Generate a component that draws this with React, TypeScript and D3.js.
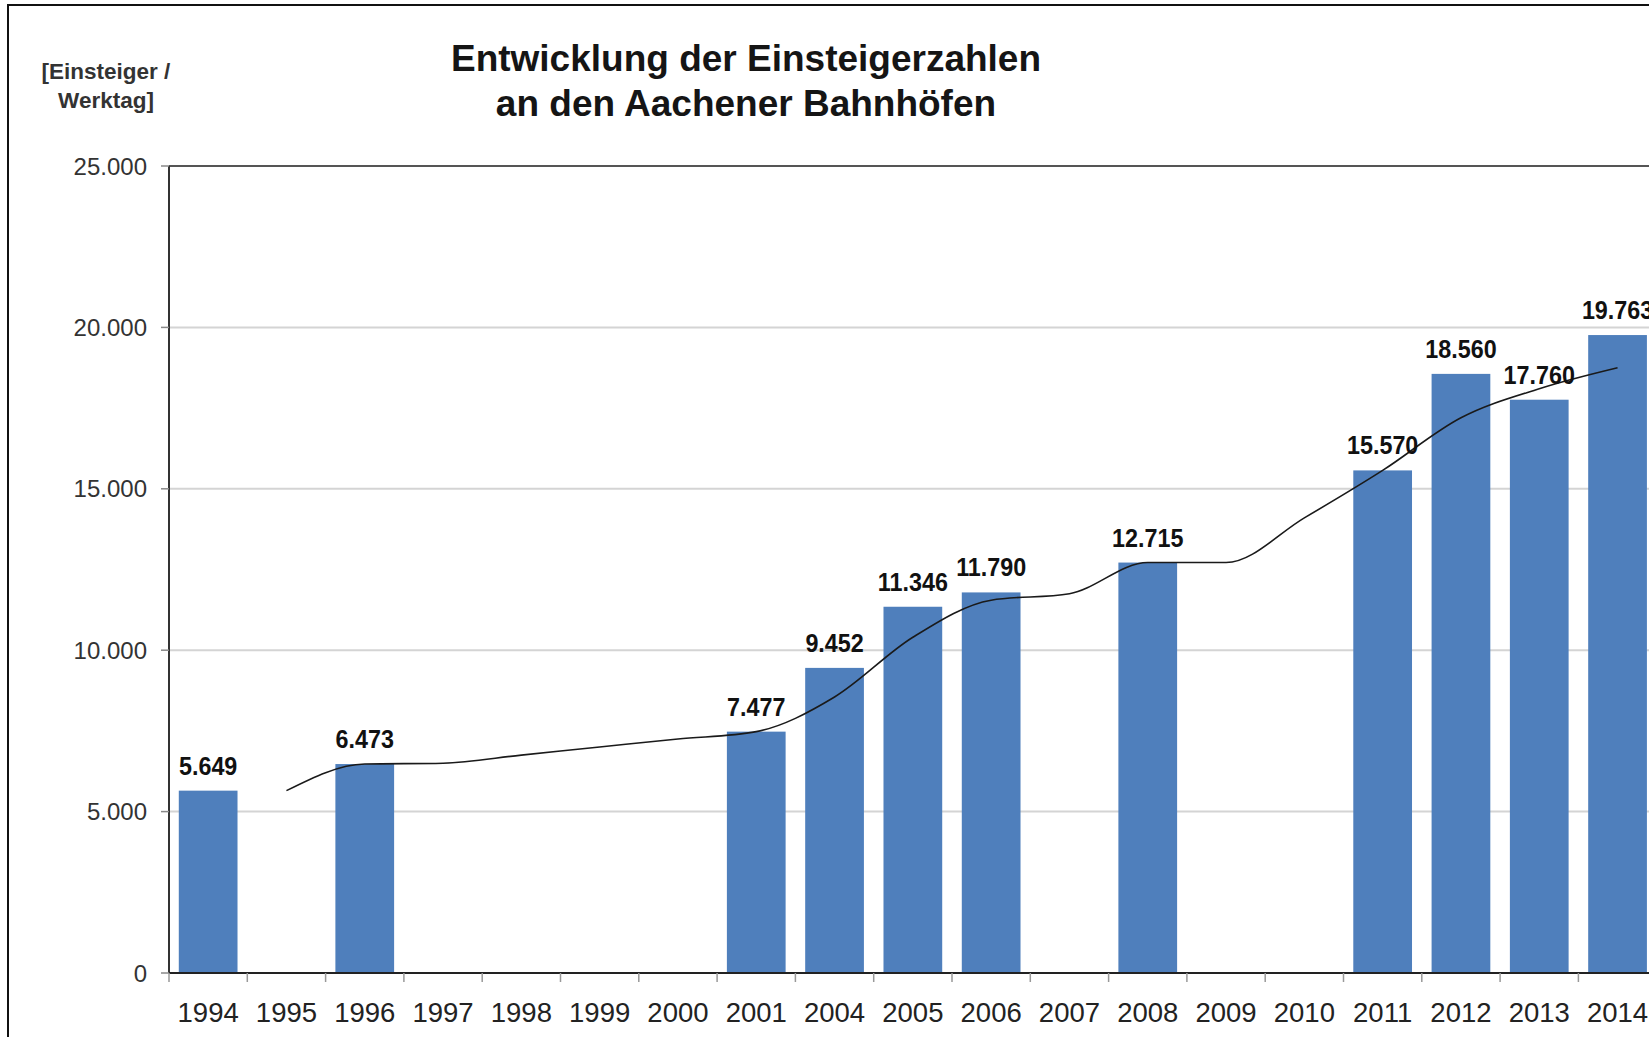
import React from "react";
import * as d3 from "d3";

const years = ["1994","1995","1996","1997","1998","1999","2000","2001","2004","2005","2006","2007","2008","2009","2010","2011","2012","2013","2014"];
const barValues: (number | null)[] = [5649, null, 6473, null, null, null, null, 7477, 9452, 11346, 11790, null, 12715, null, null, 15570, 18560, 17760, 19763];
const trendValues: (number | null)[] = [null, 5649, 6473, 6500, 6750, 7000, 7250, 7477, 8550, 10400, 11550, 11750, 12715, 12715, 14100, 15570, 17200, 18100, 18750];
const yTicks = [0, 5000, 10000, 15000, 20000, 25000];
const titleLines = ["Entwicklung der Einsteigerzahlen", "an den Aachener Bahnhöfen"];
const unitLines = ["[Einsteiger /", "Werktag]"];

const W = 1649;
const H = 1037;
const plotLeft = 169;
const step = 78.3;
const plotRight = plotLeft + years.length * step;
const plotTop = 166;
const plotBottom = 973;

const de = d3.formatLocale({ decimal: ",", thousands: ".", grouping: [3], currency: ["", " €"] });
const fmt = de.format(",");

export default function App() {
  const x = d3.scaleBand<string>().domain(years).range([plotLeft, plotRight]).paddingInner(0.25).paddingOuter(0.125);
  const y = d3.scaleLinear().domain([0, 25000]).range([plotBottom, plotTop]);
  const bw = x.bandwidth();
  const st = x.step();
  const boundaries = d3.range(years.length + 1).map((i) => plotLeft + i * st);

  const trendPts = years
    .map((yr, i) => ({ yr, v: trendValues[i] }))
    .filter((d) => d.v != null) as { yr: string; v: number }[];
  const line = d3
    .line<{ yr: string; v: number }>()
    .x((d) => (x(d.yr) as number) + bw / 2)
    .y((d) => y(d.v))
    .curve(d3.curveMonotoneX);

  const font = "'Liberation Sans', Arial, Helvetica, sans-serif";

  return (
    <svg width={W} height={H} style={{ position: "absolute", left: 0, top: 0, background: "#fff" }} fontFamily={font}>
      <rect x={0} y={0} width={W} height={H} fill="#fff" />
      {/* outer frame */}
      <rect x={8} y={5} width={W + 50} height={H + 50} fill="none" stroke="#111" strokeWidth={2} />

      {/* title */}
      {titleLines.map((t, i) => (
        <text key={t} x={746} y={71 + i * 45} textAnchor="middle" fontSize={37} fontWeight="bold" fill="#151515">
          {t}
        </text>
      ))}
      {unitLines.map((t, i) => (
        <text key={t} x={106} y={79 + i * 29} textAnchor="middle" fontSize={22.5} fontWeight="bold" fill="#333">
          {t}
        </text>
      ))}

      {/* gridlines */}
      {yTicks.filter((v) => v > 0 && v < 25000).map((v) => (
        <line key={v} x1={plotLeft} x2={plotRight} y1={y(v)} y2={y(v)} stroke="#d4d4d4" strokeWidth={2} />
      ))}
      {/* top border */}
      <line x1={plotLeft} x2={plotRight} y1={y(25000)} y2={y(25000)} stroke="#555" strokeWidth={2} />

      {/* bars */}
      {years.map((yr, i) =>
        barValues[i] != null ? (
          <rect key={yr} x={x(yr)} y={y(barValues[i] as number)} width={bw} height={plotBottom - y(barValues[i] as number)} fill="#4f7fbc" />
        ) : null
      )}

      {/* trend line */}
      <path d={line(trendPts) || ""} fill="none" stroke="#1a1a1a" strokeWidth={1.6} />

      {/* data labels */}
      {years.map((yr, i) =>
        barValues[i] != null ? (
          <text
            key={"l" + yr}
            transform={`translate(${(x(yr) as number) + bw / 2},${y(barValues[i] as number) - 16}) scale(0.88,1)`}
            textAnchor="middle"
            fontSize={26.5}
            fontWeight="bold"
            fill="#111"
          >
            {fmt(barValues[i] as number)}
          </text>
        ) : null
      )}

      {/* y axis */}
      <line x1={plotLeft} x2={plotLeft} y1={plotTop} y2={plotBottom} stroke="#333" strokeWidth={2} />
      {yTicks.map((v) => (
        <g key={"yt" + v}>
          <line x1={plotLeft - 8} x2={plotLeft} y1={y(v)} y2={y(v)} stroke="#888" strokeWidth={1.5} />
          <text x={147} y={y(v)} dy="0.36em" textAnchor="end" fontSize={24} fill="#333">
            {fmt(v)}
          </text>
        </g>
      ))}

      {/* x axis */}
      <line x1={plotLeft} x2={plotRight} y1={plotBottom} y2={plotBottom} stroke="#222" strokeWidth={2} />
      {boundaries.map((bx, i) => (
        <line key={"xt" + i} x1={bx} x2={bx} y1={plotBottom} y2={plotBottom + 9} stroke="#999" strokeWidth={1.5} />
      ))}
      {years.map((yr) => (
        <text key={"xl" + yr} x={(x(yr) as number) + bw / 2} y={1022} textAnchor="middle" fontSize={27.5} fill="#222">
          {yr}
        </text>
      ))}
    </svg>
  );
}
